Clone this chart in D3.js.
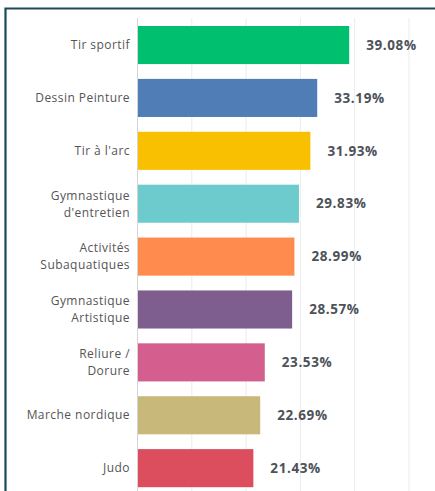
<!DOCTYPE html>
<html>
<head>
<meta charset="utf-8">
<script src="https://cdn.jsdelivr.net/npm/d3@7"></script>
<style>
  body { margin: 0; background: #fff; }
  svg { display: block; }
</style>
</head>
<body>
<div id="chart"></div>
<script>
// activités et pourcentages
const categories = [
  ["Tir sportif"],
  ["Dessin Peinture"],
  ["Tir à l'arc"],
  ["Gymnastique", "d'entretien"],
  ["Activités", "Subaquatiques"],
  ["Gymnastique", "Artistique"],
  ["Reliure /", "Dorure"],
  ["Marche nordique"],
  ["Judo"]
]
const values = [39.08, 33.19, 31.93, 29.83, 28.99, 28.57, 23.53, 22.69, 21.43]
const colors = ["#00c06f", "#517db6", "#f8c000", "#6dcacd", "#ff8b4e", "#7e5e8f", "#d45e8d", "#c8b879", "#dc4e5e"]
const ticks = [0, 10, 20, 30, 40, 50]

const width = 435, height = 491

const svg = d3.select("#chart").append("svg")
  .attr("width", width)
  .attr("height", height)

// frame
svg.append("path")
  .attr("d", "M5.5,491 V8.5 H435")
  .attr("fill", "none")
  .attr("stroke", "#1c4a5b")
  .attr("stroke-width", 2.2)

const x = d3.scaleLinear().domain([0, 50]).range([137, 408.5])
const y = d3.scaleBand()
  .domain(d3.range(categories.length))
  .range([18.6, 494.6])
  .paddingInner(0.28)
  .paddingOuter(0.14)

// grid
svg.append("g")
  .selectAll("line")
  .data(ticks)
  .join("line")
  .attr("x1", d => x(d) + 0.5)
  .attr("x2", d => x(d) + 0.5)
  .attr("y1", 18)
  .attr("y2", height)
  .attr("stroke", d => d === 0 ? "#d4d4d4" : "#ececec")
  .attr("stroke-width", 1)

// bars
svg.append("g")
  .selectAll("rect")
  .data(values)
  .join("rect")
  .attr("x", x(0) + 1)
  .attr("y", (d, i) => y(i))
  .attr("width", d => x(d) - x(0) - 1)
  .attr("height", y.bandwidth())
  .attr("fill", (d, i) => colors[i])

// category labels
const lab = svg.append("g")
  .selectAll("text")
  .data(categories)
  .join("text")
  .attr("text-anchor", "end")
  .attr("font-family", "Open Sans, sans-serif")
  .attr("font-size", 12)
  .attr("letter-spacing", 0.45)
  .attr("fill", "#555")
  .attr("x", 130)
  .attr("y", (d, i) => y(i) + y.bandwidth() / 2)

lab.selectAll("tspan")
  .data(d => d.map((t, j) => ({ t, j, n: d.length })))
  .join("tspan")
  .attr("x", 130)
  .attr("dy", d => d.j === 0 ? (d.n === 1 ? "0.35em" : "-0.35em") : "1.42em")
  .text(d => d.t)

// value labels
svg.append("g")
  .selectAll("text")
  .data(values)
  .join("text")
  .attr("font-family", "Open Sans, sans-serif")
  .attr("font-size", 13.5)
  .attr("font-weight", 700)
  .attr("letter-spacing", 0.6)
  .attr("fill", "#4d5259")
  .attr("x", d => x(d) + 17)
  .attr("y", (d, i) => y(i) + y.bandwidth() / 2)
  .attr("dy", "0.35em")
  .text(d => d.toFixed(2) + "%")
</script>
</body>
</html>
